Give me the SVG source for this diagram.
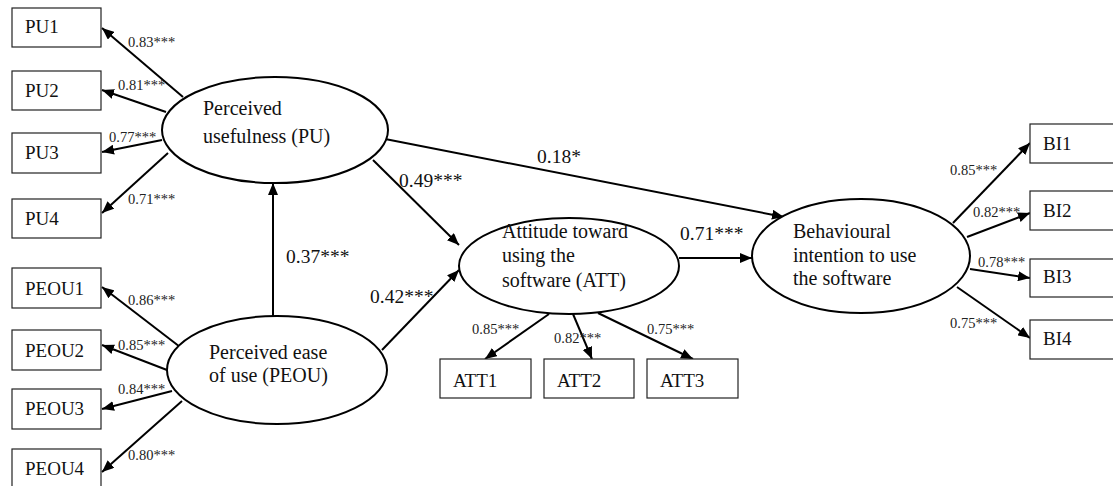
<svg xmlns="http://www.w3.org/2000/svg" width="1113" height="486" viewBox="0 0 1113 486">
<style>
.box{fill:#fff;stroke:#222;stroke-width:1.2}
.ell{fill:#fff;stroke:#000;stroke-width:2}
.t{font-family:"Liberation Serif",serif;font-size:19px;fill:#111}
.n{font-family:"Liberation Serif",serif;font-size:20px;fill:#111}
.s{font-family:"Liberation Serif",serif;font-size:14.5px;fill:#222}
.b{font-family:"Liberation Serif",serif;font-size:19.5px;fill:#111}
.c{stroke:#000;stroke-width:2;fill:none;marker-end:url(#ah)}
</style>
<defs>
<marker id="ah" markerUnits="userSpaceOnUse" markerWidth="12" markerHeight="10" refX="12" refY="5" orient="auto">
<path d="M0,0 L12,5 L0,10 z" fill="#000"/>
</marker>
</defs>
<rect width="1113" height="486" fill="#fff"/>
<g id="connectors">
<line class="c" x1="183" y1="97" x2="102" y2="28"/>
<line class="c" x1="166" y1="112" x2="102" y2="90"/>
<line class="c" x1="162" y1="140" x2="102" y2="152"/>
<line class="c" x1="168" y1="153" x2="102" y2="213"/>
<line class="c" x1="184" y1="350" x2="102" y2="287"/>
<line class="c" x1="167" y1="370" x2="102" y2="345"/>
<line class="c" x1="172" y1="391" x2="102" y2="409"/>
<line class="c" x1="182" y1="401" x2="102" y2="472"/>
<line class="c" x1="273" y1="316" x2="273" y2="183"/>
<line class="c" x1="373" y1="160" x2="459" y2="245"/>
<line class="c" x1="382" y1="350" x2="459" y2="270"/>
<line class="c" x1="380" y1="138" x2="784" y2="217"/>
<line class="c" x1="679" y1="258" x2="752" y2="258"/>
<line class="c" x1="549" y1="314" x2="485" y2="359"/>
<line class="c" x1="573" y1="314" x2="592" y2="359"/>
<line class="c" x1="598" y1="313" x2="693" y2="359"/>
<line class="c" x1="953" y1="223" x2="1030" y2="143"/>
<line class="c" x1="967" y1="237" x2="1030" y2="213"/>
<line class="c" x1="970" y1="269" x2="1030" y2="278"/>
<line class="c" x1="957" y1="287" x2="1030" y2="338"/>
<text class="s" x="128" y="47">0.83***</text>
<text class="s" x="118" y="90">0.81***</text>
<text class="s" x="109" y="142">0.77***</text>
<text class="s" x="128" y="204">0.71***</text>
<text class="s" x="128" y="305">0.86***</text>
<text class="s" x="118" y="350">0.85***</text>
<text class="s" x="118" y="394">0.84***</text>
<text class="s" x="128" y="460">0.80***</text>
<text class="b" x="286" y="263">0.37***</text>
<text class="b" x="370" y="303">0.42***</text>
<text class="b" x="399" y="187">0.49***</text>
<text class="b" x="537" y="163">0.18*</text>
<text class="b" x="680" y="240">0.71***</text>
<text class="s" x="472" y="334">0.85***</text>
<text class="s" x="554" y="343">0.82***</text>
<text class="s" x="647" y="334">0.75***</text>
<text class="s" x="950" y="175">0.85***</text>
<text class="s" x="973" y="217">0.82***</text>
<text class="s" x="978" y="267">0.78***</text>
<text class="s" x="950" y="328">0.75***</text>
</g>
<g id="PU1"><rect class="box" x="12" y="8" width="89" height="39"/><text class="t" x="25" y="33">PU1</text></g>
<g id="PU2"><rect class="box" x="12" y="71" width="89" height="39"/><text class="t" x="25" y="97">PU2</text></g>
<g id="PU3"><rect class="box" x="12" y="133" width="89" height="40"/><text class="t" x="25" y="159">PU3</text></g>
<g id="PU4"><rect class="box" x="12" y="199" width="89" height="39"/><text class="t" x="25" y="225">PU4</text></g>
<g id="PEOU1"><rect class="box" x="12" y="268" width="89" height="40"/><text class="t" x="25" y="295">PEOU1</text></g>
<g id="PEOU2"><rect class="box" x="12" y="330" width="89" height="40"/><text class="t" x="25" y="357">PEOU2</text></g>
<g id="PEOU3"><rect class="box" x="12" y="389" width="89" height="40"/><text class="t" x="25" y="415">PEOU3</text></g>
<g id="PEOU4"><rect class="box" x="12" y="449" width="89" height="42"/><text class="t" x="25" y="475">PEOU4</text></g>
<g id="PU"><ellipse class="ell" cx="275" cy="130" rx="113" ry="53"/><text class="n" x="203" y="115">Perceived</text><text class="n" x="203" y="143">usefulness (PU)</text></g>
<g id="PEOU"><ellipse class="ell" cx="277" cy="370" rx="110" ry="54"/><text class="n" x="209" y="359">Perceived ease</text><text class="n" x="209" y="382">of use (PEOU)</text></g>
<g id="ATT"><ellipse class="ell" cx="569" cy="266" rx="110" ry="48"/><text class="n" x="502" y="238">Attitude toward</text><text class="n" x="502" y="262">using the</text><text class="n" x="502" y="287">software (ATT)</text></g>
<g id="BI"><ellipse class="ell" cx="861" cy="256" rx="109" ry="57"/><text class="n" x="793" y="238">Behavioural</text><text class="n" x="793" y="262">intention to use</text><text class="n" x="793" y="285">the software</text></g>
<g id="ATT1"><rect class="box" x="440" y="359" width="91" height="39"/><text class="t" x="453" y="387">ATT1</text></g>
<g id="ATT2"><rect class="box" x="544" y="359" width="90" height="39"/><text class="t" x="557" y="387">ATT2</text></g>
<g id="ATT3"><rect class="box" x="647" y="359" width="91" height="39"/><text class="t" x="660" y="387">ATT3</text></g>
<g id="BI1"><rect class="box" x="1030" y="124" width="90" height="39"/><text class="t" x="1043" y="150">BI1</text></g>
<g id="BI2"><rect class="box" x="1030" y="191" width="90" height="39"/><text class="t" x="1043" y="217">BI2</text></g>
<g id="BI3"><rect class="box" x="1030" y="259" width="90" height="38"/><text class="t" x="1043" y="283">BI3</text></g>
<g id="BI4"><rect class="box" x="1030" y="320" width="90" height="39"/><text class="t" x="1043" y="345">BI4</text></g>
</svg>
